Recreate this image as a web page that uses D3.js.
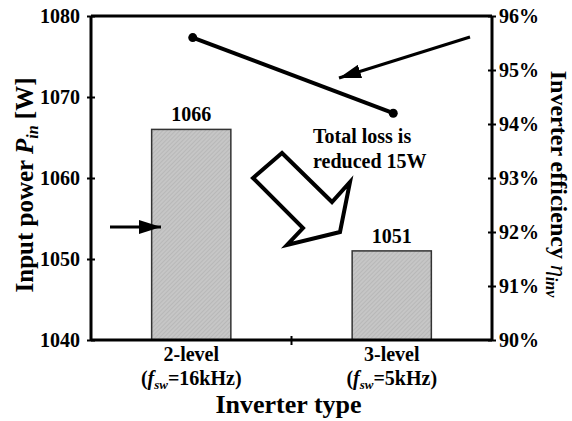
<!DOCTYPE html>
<html>
<head>
<meta charset="utf-8">
<script src="https://cdn.jsdelivr.net/npm/d3@7"></script>
<style>
  body { margin: 0; background: #fff; }
  svg text { font-family: "Liberation Serif", "Times New Roman", serif; font-weight: bold; fill: #000; }
</style>
</head>
<body>
<svg id="chart"></svg>
<script>
const categories = ["2-level", "3-level"];
const switchFreq = ["16kHz", "5kHz"];
const inputPower = [1066, 1051];
const efficiency = [95.6, 94.2];
const powerTicks = [1040, 1050, 1060, 1070, 1080];
const effTicks = [90, 91, 92, 93, 94, 95, 96];

const width = 572, height = 421;
const margin = { top: 16, right: 80, bottom: 81, left: 91 };

const svg = d3.select('#chart')
    .attr('width', width)
    .attr('height', height);

// hatch for the bars
const defs = svg.append('defs');
const pat = defs.append('pattern')
    .attr('id', 'hatch')
    .attr('patternUnits', 'userSpaceOnUse')
    .attr('width', 3).attr('height', 3)
    .attr('patternTransform', 'rotate(45)');
pat.append('rect').attr('width', 3).attr('height', 3).attr('fill', '#c6c6c6');
pat.append('line').attr('x1', 0).attr('y1', 0).attr('x2', 0).attr('y2', 3)
    .attr('stroke', '#aaaaaa').attr('stroke-width', 1);

const marker = (id, w, h) => {
    defs.append('marker')
        .attr('id', id)
        .attr('viewBox', `0 0 ${w} ${h}`)
        .attr('refX', w).attr('refY', h / 2)
        .attr('markerWidth', w).attr('markerHeight', h)
        .attr('markerUnits', 'userSpaceOnUse')
        .attr('orient', 'auto')
        .append('path')
        .attr('d', `M0,0 L${w},${h / 2} L0,${h} Z`)
        .attr('fill', '#000');
};
marker('head', 22, 14);

const x = d3.scaleBand()
    .domain(categories)
    .range([margin.left, width - margin.right])
    .padding(0);

const y = d3.scaleLinear()
    .domain([1040, 1080])
    .range([height - margin.bottom, margin.top]);

const y2 = d3.scaleLinear()
    .domain([90, 96])
    .range([height - margin.bottom, margin.top]);

const barW = x.bandwidth() * 0.395;

// bars
svg.append('g')
    .selectAll('rect')
    .data(categories)
    .enter()
    .append('rect')
    .attr('x', (d, i) => x(d) + x.bandwidth() / 2 - barW / 2)
    .attr('y', (d, i) => y(inputPower[i]))
    .attr('width', barW)
    .attr('height', (d, i) => y(1040) - y(inputPower[i]))
    .attr('fill', 'url(#hatch)')
    .attr('stroke', '#333')
    .attr('stroke-width', 1.5);

svg.append('g')
    .selectAll('text')
    .data(categories)
    .enter()
    .append('text')
    .attr('x', d => x(d) + x.bandwidth() / 2)
    .attr('y', (d, i) => y(inputPower[i]) - 8)
    .attr('text-anchor', 'middle')
    .style('font-size', '20px')
    .text((d, i) => inputPower[i]);

// left axis
const left = svg.append('g')
    .attr('transform', `translate(${margin.left},0)`)
    .call(d3.axisLeft(y).tickValues(powerTicks).tickFormat(d3.format('d')).tickSize(4).tickPadding(7));
left.select('.domain').attr('stroke-width', 3).attr('d', `M0,${y(1040)}V${y(1080)}`);
left.selectAll('.tick line').attr('x2', 4).attr('x1', -4).attr('stroke-width', 2);
left.selectAll('.tick text').style('font-size', '20px').style('font-family', null);

// right axis
const right = svg.append('g')
    .attr('transform', `translate(${width - margin.right},0)`)
    .call(d3.axisRight(y2).tickValues(effTicks).tickSize(4).tickPadding(3).tickFormat(d => d + '%'));
right.select('.domain').attr('stroke-width', 3).attr('d', `M0,${y2(90)}V${y2(96)}`);
right.selectAll('.tick line').attr('x1', -4).attr('x2', 4).attr('stroke-width', 2);
right.selectAll('.tick text').style('font-size', '20px').style('font-family', null);

// top frame
svg.append('line')
    .attr('x1', margin.left).attr('x2', width - margin.right)
    .attr('y1', y(1080)).attr('y2', y(1080))
    .attr('stroke', '#000').attr('stroke-width', 3);

// bottom axis
const bottom = svg.append('g')
    .attr('transform', `translate(0,${y(1040)})`);
bottom.append('line')
    .attr('x1', margin.left).attr('x2', width - margin.right)
    .attr('stroke', '#000').attr('stroke-width', 3);
bottom.append('line')
    .attr('x1', x(categories[1])).attr('x2', x(categories[1]))
    .attr('y1', -4).attr('y2', 5)
    .attr('stroke', '#000').attr('stroke-width', 2);

categories.forEach((c, i) => {
    const cx = x(c) + x.bandwidth() / 2;
    bottom.append('text')
        .attr('x', cx).attr('y', 21)
        .attr('text-anchor', 'middle')
        .style('font-size', '20px')
        .text(c);
    const t = bottom.append('text')
        .attr('x', cx).attr('y', 45)
        .attr('text-anchor', 'middle')
        .style('font-size', '20px');
    t.append('tspan').text('(');
    t.append('tspan').style('font-style', 'italic').text('f');
    t.append('tspan').style('font-style', 'italic').style('font-size', '13px').attr('dy', 4).text('sw');
    t.append('tspan').attr('dy', -4).text('=' + switchFreq[i] + ')');
});

bottom.append('text')
    .attr('x', (margin.left + width - margin.right) / 2 - 3)
    .attr('y', 73)
    .attr('text-anchor', 'middle')
    .style('font-size', '26px')
    .text('Inverter type');

// axis titles
const lt = svg.append('text')
    .attr('transform', `translate(33,${(y(1040) + y(1080)) / 2 + 7}) rotate(-90)`)
    .attr('text-anchor', 'middle')
    .style('font-size', '25px');
lt.append('tspan').text('Input power ');
lt.append('tspan').style('font-style', 'italic').text('P');
lt.append('tspan').style('font-style', 'italic').style('font-size', '16px').attr('dy', 5).text('in');
lt.append('tspan').attr('dy', -5).text(' [W]');

const rt = svg.append('text')
    .attr('transform', `translate(551,${(y2(90) + y2(96)) / 2 + 6}) rotate(90)`)
    .attr('text-anchor', 'middle')
    .style('font-size', '24px');
rt.append('tspan').text('Inverter efficiency ');
rt.append('tspan').style('font-style', 'italic').style('font-weight', 'normal').text('η');
rt.append('tspan').style('font-style', 'italic').style('font-size', '16px').attr('dy', 5).text('inv');

// efficiency line
const line = d3.line()
    .x((d, i) => x(categories[i]) + x.bandwidth() / 2 + 1.5)
    .y(d => y2(d));
svg.append('path')
    .datum(efficiency)
    .attr('d', line)
    .attr('fill', 'none')
    .attr('stroke', '#000')
    .attr('stroke-width', 4);
svg.append('g')
    .selectAll('circle')
    .data(efficiency)
    .enter()
    .append('circle')
    .attr('cx', (d, i) => x(categories[i]) + x.bandwidth() / 2 + 1.5)
    .attr('cy', d => y2(d))
    .attr('r', 4.5)
    .attr('fill', '#000');

// annotations
svg.append('line')
    .attr('x1', 110).attr('y1', 227).attr('x2', 161).attr('y2', 227)
    .attr('stroke', '#000').attr('stroke-width', 3)
    .attr('marker-end', 'url(#head)');
svg.append('line')
    .attr('x1', 470).attr('y1', 37).attr('x2', 339).attr('y2', 78)
    .attr('stroke', '#000').attr('stroke-width', 3)
    .attr('marker-end', 'url(#head)');

const bigArrow = [[282, 153], [332, 202], [350, 182], [340, 232], [287, 245], [303, 228], [253, 178]];
svg.append('path')
    .attr('d', d3.line()(bigArrow) + 'Z')
    .attr('fill', '#fff')
    .attr('stroke', '#000')
    .attr('stroke-width', 4)
    .attr('stroke-linejoin', 'miter');

svg.append('text')
    .attr('x', 313).attr('y', 143)
    .style('font-size', '20px')
    .text('Total loss is');
svg.append('text')
    .attr('x', 313).attr('y', 168)
    .style('font-size', '20px')
    .text('reduced 15W');
</script>
</body>
</html>
